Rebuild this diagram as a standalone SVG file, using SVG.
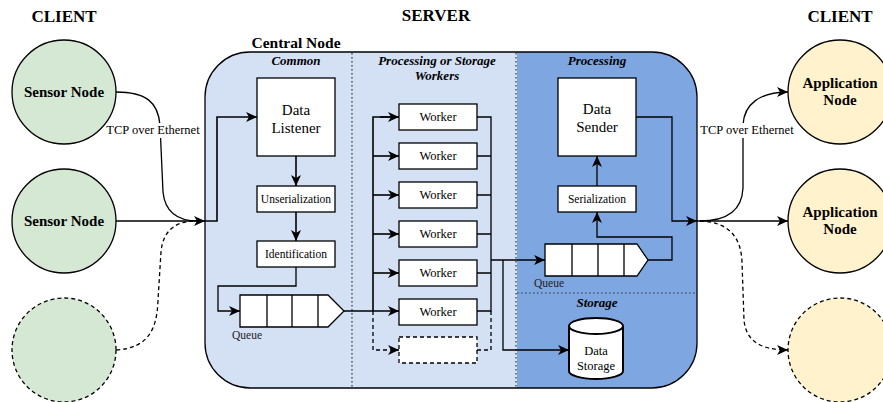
<svg xmlns="http://www.w3.org/2000/svg" width="883" height="402" viewBox="0 0 883 402">
<style>
text{font-family:"Liberation Serif","Times New Roman",serif;fill:#000}
.hdr{font-size:17px;font-weight:bold;text-anchor:middle}
.sec{font-size:13px;font-weight:bold;font-style:italic;text-anchor:middle}
.nm{font-size:15px;font-weight:bold;text-anchor:middle}
.big{font-size:15px;text-anchor:middle}
.sm{font-size:11.5px;text-anchor:middle}
.wk{font-size:12.5px;text-anchor:middle}
.lbl{font-size:12.5px;text-anchor:middle}
.ql{font-size:11.5px;text-anchor:middle;fill:#222}
.box{fill:#fff;stroke:#000;stroke-width:1.3}
.ln{fill:none;stroke:#000;stroke-width:1.3}
.ln2{fill:none;stroke:#000;stroke-width:1.6}
.dash{fill:none;stroke:#000;stroke-width:1.3;stroke-dasharray:4 3}
.dot{fill:none;stroke:#333;stroke-width:1.2;stroke-dasharray:1.5 2.5}
.green{fill:#D5E8D4;stroke:#000;stroke-width:1.3}
.yellow{fill:#FFF2CC;stroke:#000;stroke-width:1.3}
</style>
<defs>
<marker id="arr" markerUnits="userSpaceOnUse" markerWidth="12" markerHeight="10" refX="11" refY="5" orient="auto">
<path d="M0,0 L11,5 L0,10 L3,5 Z" fill="#000"/>
</marker>
</defs>

<g id="titles">
<text class="hdr" x="64" y="22">CLIENT</text>
<text class="hdr" x="436" y="21">SERVER</text>
<text class="hdr" x="840" y="22">CLIENT</text>
</g>

<g id="central-node">
<path d="M250,52 H517 V388 H250 A45,45 0 0 1 205,343 V97 A45,45 0 0 1 250,52 Z" fill="#D4E1F5"/>
<path d="M517,52 H652 A45,45 0 0 1 697,97 V343 A45,45 0 0 1 652,388 H517 Z" fill="#7EA6E0"/>
<rect x="205" y="52" width="492" height="336" rx="45" ry="45" fill="none" stroke="#000" stroke-width="1.3"/>
<line class="dot" x1="352" y1="53" x2="352" y2="387"/>
<line class="dot" x1="516" y1="53" x2="516" y2="387"/>
<line class="dot" x1="517" y1="293" x2="696" y2="293"/>
<text x="296" y="48" style="font-size:15.5px;font-weight:bold;text-anchor:middle">Central Node</text>
<text class="sec" x="296" y="65">Common</text>
<text class="sec" x="437" y="65">Processing or Storage</text>
<text class="sec" x="437" y="80">Workers</text>
<text class="sec" x="597" y="65">Processing</text>
<text class="sec" x="597" y="307">Storage</text>
</g>

<g id="sensor-node-1">
<circle class="green" cx="64" cy="92" r="52"/>
<text class="nm" x="64" y="97">Sensor Node</text>
</g>
<g id="sensor-node-2">
<circle class="green" cx="64" cy="221" r="52"/>
<text class="nm" x="64" y="226">Sensor Node</text>
</g>
<g id="sensor-node-3">
<circle class="green" cx="64" cy="350" r="52" stroke-dasharray="4 3"/>
</g>

<g id="app-node-1">
<circle class="yellow" cx="840" cy="92" r="52"/>
<text class="nm" x="840" y="88">Application</text>
<text class="nm" x="840" y="105">Node</text>
</g>
<g id="app-node-2">
<circle class="yellow" cx="840" cy="221" r="52"/>
<text class="nm" x="840" y="217">Application</text>
<text class="nm" x="840" y="234">Node</text>
</g>
<g id="app-node-3">
<circle class="yellow" cx="840" cy="350" r="52" stroke-dasharray="4 3"/>
</g>

<g id="data-listener">
<rect class="box" x="257" y="78" width="78" height="78"/>
<text class="big" x="296" y="115">Data</text>
<text class="big" x="296" y="133">Listener</text>
</g>
<g id="unserialization">
<rect class="box" x="257" y="186" width="78" height="26"/>
<text class="sm" x="296" y="203">Unserialization</text>
</g>
<g id="identification">
<rect class="box" x="257" y="241" width="78" height="26"/>
<text class="sm" x="296" y="258">Identification</text>
</g>
<g id="queue-1">
<path class="box" d="M240,295 H328 L344,311 L328,327 H240 Z"/>
<path class="ln" d="M267,295 V327 M292,295 V327 M318,295 V327"/>
<text class="ql" x="247" y="339">Queue</text>
</g>

<g id="workers">
<rect class="box" x="399" y="104" width="78" height="26"/>
<text class="wk" x="438" y="121">Worker</text>
<rect class="box" x="399" y="143" width="78" height="26"/>
<text class="wk" x="438" y="160">Worker</text>
<rect class="box" x="399" y="182" width="78" height="26"/>
<text class="wk" x="438" y="199">Worker</text>
<rect class="box" x="399" y="221" width="78" height="26"/>
<text class="wk" x="438" y="238">Worker</text>
<rect class="box" x="399" y="260" width="78" height="26"/>
<text class="wk" x="438" y="277">Worker</text>
<rect class="box" x="399" y="299" width="78" height="26"/>
<text class="wk" x="438" y="316">Worker</text>
<rect class="box" x="399" y="337" width="78" height="26" stroke-dasharray="4 3"/>
</g>

<g id="data-sender">
<rect class="box" x="558" y="78" width="78" height="78"/>
<text class="big" x="597" y="114">Data</text>
<text class="big" x="597" y="132">Sender</text>
</g>
<g id="serialization">
<rect class="box" x="558" y="186" width="78" height="26"/>
<text class="sm" x="597" y="203">Serialization</text>
</g>
<g id="queue-2">
<path class="box" d="M545,244 H637 L648,260 L637,276 H545 Z"/>
<path class="ln" d="M572,244 V276 M598,244 V276 M624,244 V276"/>
<text class="ql" x="549" y="287">Queue</text>
</g>
<g id="data-storage">
<path d="M569,326 A27,8 0 0 1 623,326 V371 A27,8 0 0 1 569,371 Z" fill="#fff" stroke="#000" stroke-width="2"/>
<path d="M569,326 A27,8 0 0 0 623,326" fill="none" stroke="#000" stroke-width="2"/>
<text class="wk" x="596" y="355">Data</text>
<text class="wk" x="596" y="370">Storage</text>
</g>

<g id="connectors">
<path class="ln" d="M116,92 C146,92 158,102 160,125 L163,192 C165,212 178,221 198,221"/>
<path class="dash" d="M116,350 C148,348 157,330 158,300 L161,252 C163,230 176,221 196,221"/>
<path class="ln" d="M116,221 H205" marker-end="url(#arr)"/>
<rect x="106" y="123" width="95" height="15" fill="#fff"/>
<text class="lbl" x="153" y="134">TCP over Ethernet</text>
<path class="ln2" d="M205,221 H217 V117 H257" marker-end="url(#arr)"/>
<path class="ln2" d="M296,156 V186" marker-end="url(#arr)"/>
<path class="ln2" d="M296,212 V241" marker-end="url(#arr)"/>
<path class="ln" d="M296,267 V286 H218 V311 H240" marker-end="url(#arr)"/>
<path class="ln" d="M344,311 H399" marker-end="url(#arr)"/>
<path class="ln2" d="M399,117 H373 V311"/>
<path class="ln2" d="M373,156 H399" marker-end="url(#arr)"/>
<path class="ln2" d="M373,195 H399" marker-end="url(#arr)"/>
<path class="ln2" d="M373,234 H399" marker-end="url(#arr)"/>
<path class="ln2" d="M373,273 H399" marker-end="url(#arr)"/>
<path class="ln2" d="M380,117 H399" marker-end="url(#arr)"/>
<path class="dash" d="M373,311 V350 H399" marker-end="url(#arr)"/>
<path class="ln" d="M477,117 H491 V311 H477 M477,156 H491 M477,195 H491 M477,234 H491 M477,273 H491"/>
<path class="dash" d="M491,311 V350 H477"/>
<path class="ln" d="M491,260 H545" marker-end="url(#arr)"/>
<path class="ln" d="M503,260 V350 H569" marker-end="url(#arr)"/>
<path class="ln" d="M648,260 H672 V237 H597 V212" marker-end="url(#arr)"/>
<path class="ln" d="M597,186 V156" marker-end="url(#arr)"/>
<path class="ln" d="M636,117 H672 V221 H697" marker-end="url(#arr)"/>
<path class="ln" d="M697,221 H788" marker-end="url(#arr)"/>
<path class="ln" d="M700,221 C728,221 742,210 743,188 L743,125 C744,104 760,92 788,92" marker-end="url(#arr)"/>
<path class="dash" d="M700,221 C728,222 741,236 742,262 L744,320 C746,342 762,350 788,350" marker-end="url(#arr)"/>
<rect x="699" y="123" width="97" height="15" fill="#fff"/>
<text class="lbl" x="747" y="134">TCP over Ethernet</text>
</g>
</svg>
